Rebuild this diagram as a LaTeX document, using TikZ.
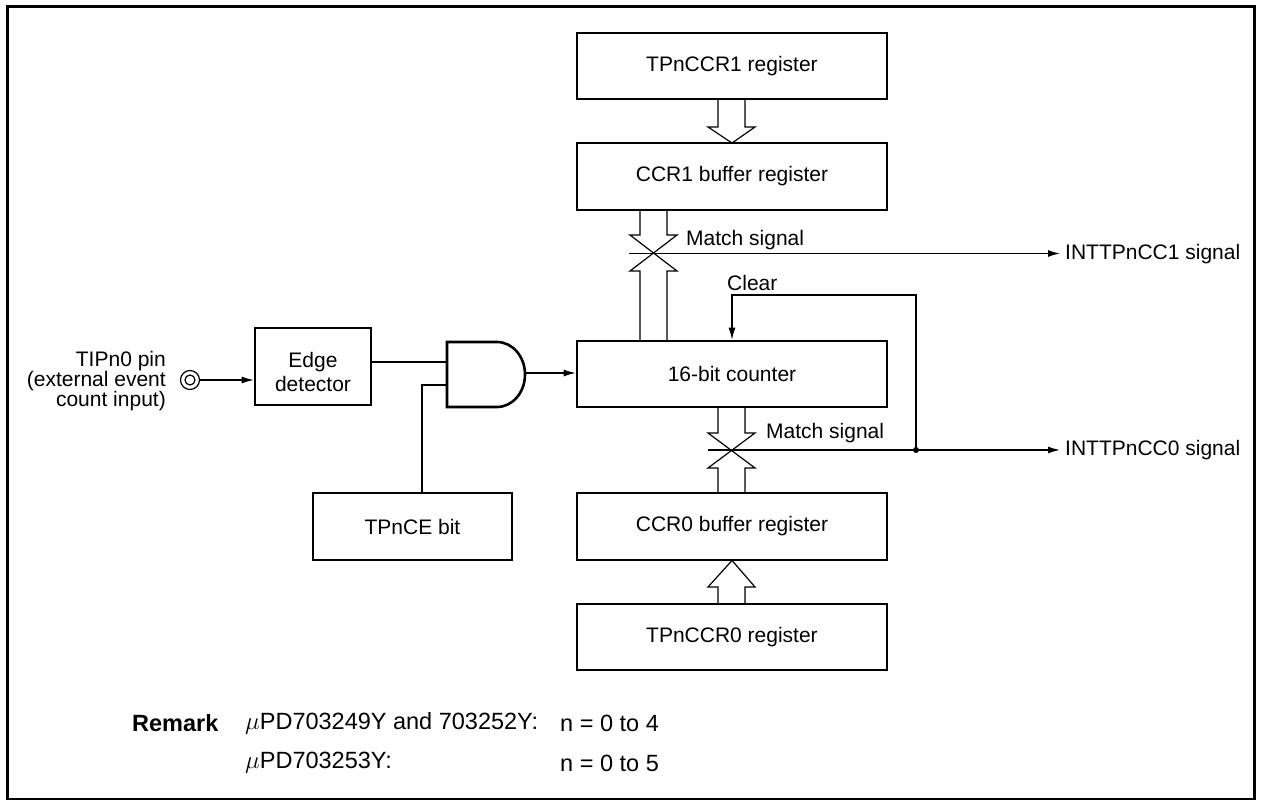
\documentclass[tikz,border=0pt]{standalone}
\usepackage{fontspec}
\setmainfont{Liberation Sans}
\usetikzlibrary{arrows.meta}
\newcommand\dfs{\fontsize{21}{20}\selectfont}
\newcommand\rfs{\fontsize{23.5}{24}\selectfont}
\tikzset{
  box/.style={draw,line width=2.6pt,minimum width=310pt,minimum height=66pt,inner sep=0pt,font=\dfs},
  wire/.style={line width=1.2pt},
  arr/.style={wire,-{Latex[length=12pt,width=7pt]}},
  lbl/.style={inner sep=0pt,font=\dfs},
  rlbl/.style={inner sep=0pt,font=\rfs},
}
\begin{document}
\begin{tikzpicture}[x=1pt,y=-1pt]
\useasboundingbox (0,0) rectangle (1261,800);
\draw[line width=3pt] (7,7) rectangle (1254,799);

% register boxes
\node[box] (r1) at (732,66) {TPnCCR1 register};
\node[box,minimum height=67pt] (b1) at (732,176.5) {CCR1 buffer register};
\node[box] (cnt) at (732,374) {16-bit counter};
\node[box,minimum height=67pt] (b0) at (732,526.5) {CCR0 buffer register};
\node[box] (r0) at (732,637) {TPnCCR0 register};
\node[box,minimum width=116pt,minimum height=77pt] (edge) at (313,366.5) {};
\node[lbl,align=center,font=\fontsize{21}{24}\selectfont] (edgetxt) at (313,372) {Edge\\detector};
\node[box,minimum width=199pt,minimum height=67pt] (ce) at (412.5,526.5) {TPnCE bit};

% hollow bus arrows
\draw[wire] (718,99) -- (718,127) -- (708,127) -- (732,143) -- (755,127) -- (745,127) -- (745,99);
\draw[wire] (718,604) -- (718,587) -- (708,587) -- (732,560.5) -- (755,587) -- (745,587) -- (745,604);

% upper crossed bus (CCR1 buffer <-> counter)
\draw[wire] (640,210) -- (640,235) -- (630,235) -- (677,271) -- (667,271) -- (667,341);
\draw[wire] (667,210) -- (667,235) -- (677,235) -- (630,271) -- (640,271) -- (640,341);
% lower crossed bus (counter <-> CCR0 buffer)
\draw[wire] (718,407) -- (718,433) -- (708,433) -- (755,468) -- (745,468) -- (745,493);
\draw[wire] (745,407) -- (745,433) -- (755,433) -- (708,468) -- (718,468) -- (718,493);

% output signals
\node[lbl,anchor=west] (cc1) at (1065,254) {INTTPnCC1 signal};
\node[lbl,anchor=west] (cc0) at (1065,450) {INTTPnCC0 signal};
\coordinate (m1) at (629,253.5);
\coordinate (m0) at (708,450);
\draw[arr] (m1) -- ([xshift=-5pt]m1 -| cc1.west);
\draw[arr] (m0) -- ([xshift=-5pt]m0 -| cc0.west);
\node[lbl,anchor=west] (ms1) at (686,240) {Match signal};
\node[lbl,anchor=west] (ms0) at (766,433) {Match signal};

% clear path
\coordinate (jn) at (916,450);
\fill (jn) circle (3pt);
\draw[arr] (jn) -- (916,295) -- (732,295) -- (cnt.north);
\node[lbl,anchor=west] (clr) at (727,283) {Clear};

% input pin
\node[lbl,align=right,anchor=east] (pintxt) at (166,381) {TIPn0 pin\\(external event\\count input)};
\node[draw,wire,circle,minimum size=19pt,inner sep=0pt] (pin) at (190,380) {};
\draw[wire] (pin.center) circle (5pt);
\draw[arr] (pin.east) -- (pin.east -| edge.west);

% AND gate
\draw[line width=2.6pt] (447,342) -- (497,342) arc[start angle=-90,end angle=90,x radius=28,y radius=32.5] -- (447,407) -- cycle;
\coordinate (g1) at (447,362);
\coordinate (g2) at (447,385);
\coordinate (gout) at (525,373);
\draw[wire] (edge.east |- g1) -- (g1);
\draw[wire] (g2) -- (422,385) -- (422,493);
\draw[arr] (gout) -- (gout -| cnt.west);

% remark
\node[rlbl,anchor=west,font=\rfs\bfseries] (rem) at (132,723) {Remark};
\node[rlbl,anchor=west] (rem1) at (245,723) {$\mu$PD703249Y and 703252Y:};
\node[rlbl,anchor=west] (rem1n) at (560,723) {n = 0 to 4};
\node[rlbl,anchor=west] (rem2) at (245,763) {$\mu$PD703253Y:};
\node[rlbl,anchor=west] (rem2n) at (560,763) {n = 0 to 5};
\end{tikzpicture}
\end{document}
